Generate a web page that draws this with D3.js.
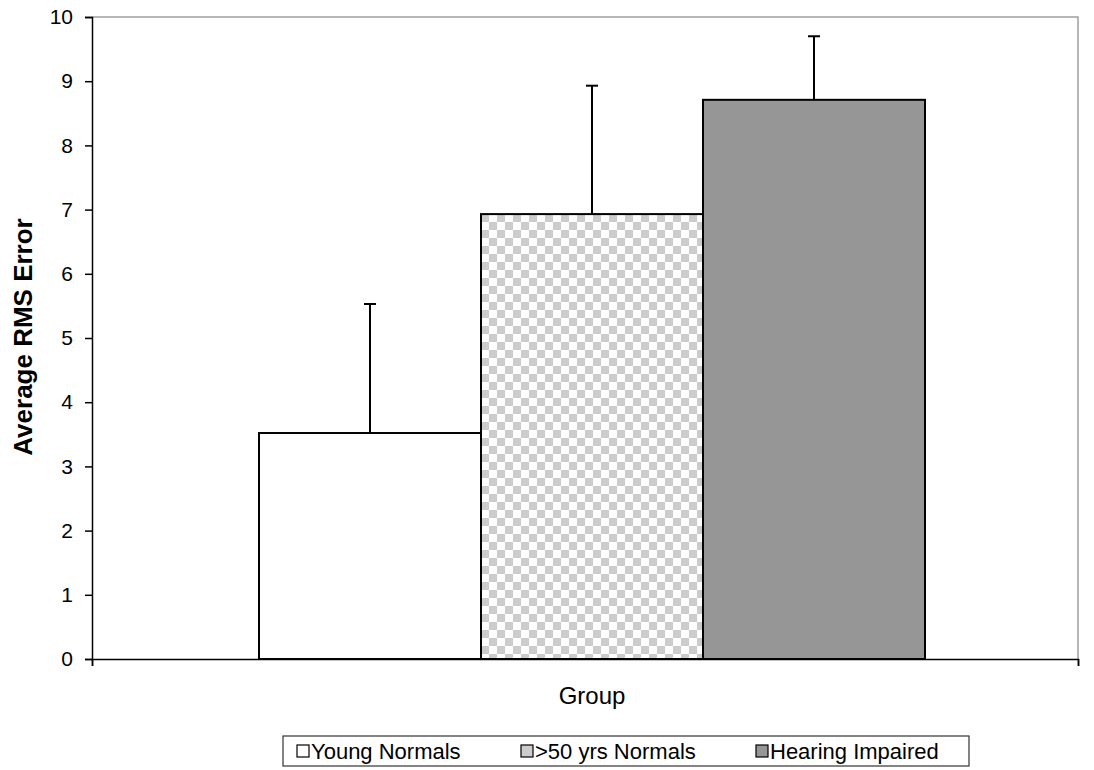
<!DOCTYPE html>
<html><head><meta charset="utf-8">
<script src="https://cdn.jsdelivr.net/npm/d3@7"></script>
<style>
body{margin:0;background:#fff;}
text{font-family:"Liberation Sans",Arial,sans-serif;}
</style></head>
<body><svg id="c" width="1094" height="770"></svg>
<script>
const series = ["Young Normals", ">50 yrs Normals", "Hearing Impaired"];
const means = [3.52, 6.93, 8.71];
const errors = [2.01, 2.00, 0.99];
const yTicks = [0,1,2,3,4,5,6,7,8,9,10];
const categoryLabel = "Group";
const yTitle = "Average RMS Error";

const svg = d3.select("#c");
const L = 92, R = 1078, T = 17, B = 659;
const y = d3.scaleLinear().domain([0,10]).range([B,T]);
const x = d3.scaleBand().domain(series).range([259,925]).padding(0);

const defs = svg.append("defs");
const pat = defs.append("pattern").attr("id","chk").attr("patternUnits","userSpaceOnUse")
  .attr("width",16).attr("height",16).attr("x",481).attr("y",630);
pat.append("rect").attr("width",16).attr("height",16).attr("fill","#fff");
pat.append("rect").attr("width",8).attr("height",8).attr("fill","#cccccc");
pat.append("rect").attr("x",8).attr("y",8).attr("width",8).attr("height",8).attr("fill","#cccccc");
const fills = ["#ffffff","url(#chk)","#969696"];
const legFills = ["#ffffff","#cccccc","#969696"];

// plot frame (top/right gray)
svg.append("path").attr("d",`M${L},${T}H${R}V${B}`).attr("fill","none").attr("stroke","#a0a0a0").attr("stroke-width",1.5);

// bars
svg.selectAll("rect.bar").data(series).enter().append("rect").attr("class","bar")
  .attr("x",d=>x(d)).attr("width",x.bandwidth())
  .attr("y",(d,i)=>y(means[i])).attr("height",(d,i)=>B-y(means[i]))
  .attr("fill",(d,i)=>fills[i]).attr("stroke","#000").attr("stroke-width",2);

// error bars (plus only)
const eg = svg.append("g").attr("stroke","#000").attr("stroke-width",2);
series.forEach((s,i)=>{
  const cx = x(s)+x.bandwidth()/2;
  eg.append("line").attr("x1",cx).attr("x2",cx).attr("y1",y(means[i])).attr("y2",y(means[i]+errors[i]));
  eg.append("line").attr("x1",cx-6).attr("x2",cx+6).attr("y1",y(means[i]+errors[i])).attr("y2",y(means[i]+errors[i]));
});

// y axis
const ya = svg.append("g").attr("transform",`translate(${L},0)`)
  .call(d3.axisLeft(y).tickValues(yTicks).tickSize(7).tickPadding(12).tickFormat(d3.format("d")));
ya.select(".domain").attr("stroke","#000").attr("stroke-width",1.5);
ya.selectAll(".tick line").attr("stroke","#000").attr("stroke-width",1.5);
ya.selectAll(".tick text").attr("font-size",21).attr("fill","#000").attr("font-family","Liberation Sans, Arial, sans-serif");

// x axis
const xa = d3.scaleLinear().domain([0,1]).range([L,R]);
const xg = svg.append("g").attr("transform",`translate(0,${B})`)
  .call(d3.axisBottom(xa).tickValues([0,1]).tickSize(7).tickFormat(""));
xg.select(".domain").attr("stroke","#000").attr("stroke-width",1.5);
xg.selectAll(".tick line").attr("stroke","#000").attr("stroke-width",1.5);

svg.append("text").attr("x",592).attr("y",704).attr("text-anchor","middle")
  .attr("font-size",24).text(categoryLabel);
svg.append("text").attr("transform","translate(32,337) rotate(-90)").attr("text-anchor","middle")
  .attr("font-size",26).attr("font-weight","bold").text(yTitle);

// legend
const lg = svg.append("g");
lg.append("rect").attr("x",283).attr("y",736).attr("width",686).attr("height",30)
  .attr("fill","#fff").attr("stroke","#333").attr("stroke-width",1.2);
const legX = [297, 521, 756];
series.forEach((s,i)=>{
  lg.append("rect").attr("x",legX[i]).attr("y",745).attr("width",12).attr("height",12)
    .attr("fill",legFills[i]).attr("stroke","#000").attr("stroke-width",1.2);
  lg.append("text").attr("x",legX[i]+14).attr("y",759).attr("font-size",22).text(s);
});
</script></body></html>
